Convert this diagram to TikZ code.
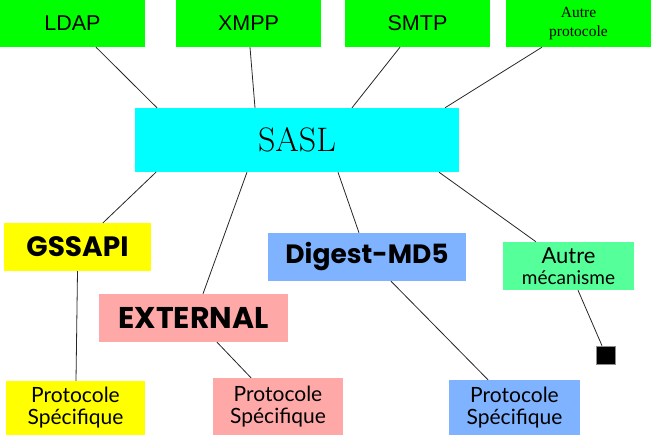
\documentclass[tikz,border=0pt]{standalone}
\usepackage{fontspec}
\setmainfont{Latin Modern Roman}
\newfontfamily\topfont{Liberation Sans}
\newfontfamily\serfont{Liberation Serif}
\newfontfamily\markfont{Poppins}
\newfontfamily\handfont{Lato}
\definecolor{topgreen}{HTML}{00FF00}
\definecolor{saslcyan}{HTML}{00FFFF}
\definecolor{gyellow}{HTML}{FFFF00}
\definecolor{epink}{HTML}{FFA8A8}
\definecolor{dblue}{HTML}{80B3FF}
\definecolor{mint}{HTML}{55FF99}
\tikzset{
  box/.style={rectangle, inner sep=0pt, align=center, text=black},
  link/.style={draw=black!85, line width=0.8pt},
  topbox/.style={box, fill=topgreen, minimum width=145pt, minimum height=47pt, font=\topfont\fontsize{21.5}{24}\selectfont},
  markbox/.style={box, minimum height=48pt, font=\markfont\bfseries\fontsize{27}{30}\selectfont},
  handbox/.style={box, font=\handfont\fontsize{21}{22}\selectfont},
}
\begin{document}
\begin{tikzpicture}[x=1pt,y=-1pt]
\useasboundingbox (0,0) rectangle (651,435);
% top row
\node[topbox] (ldap) at (72.5,23.5) {LDAP};
\node[topbox] (xmpp) at (248.5,23.5) {XMPP};
\node[topbox] (smtp) at (417.5,23.5) {SMTP};
\node[topbox, font=\serfont\fontsize{15.5}{19.5}\selectfont] (autrep) at (578.5,23.5) {Autre\\protocole};
% SASL
\node[box, fill=saslcyan, minimum width=324pt, minimum height=64pt, font=\fontsize{34}{38}\selectfont] (sasl) at (297,140) {SASL};
% mechanisms
\node[markbox, fill=gyellow, minimum width=147pt, font=\markfont\bfseries\fontsize{28}{30}\selectfont] (gss) at (77.5,247) {GSSAPI};
\node[markbox, fill=epink, minimum width=189pt, font=\markfont\bfseries\fontsize{30}{32}\selectfont] (ext) at (193.5,318) {EXTERNAL};
\node[markbox, fill=dblue, minimum width=198pt, font=\markfont\bfseries\fontsize{26.5}{30}\selectfont] (dig) at (367,257) {Digest-MD5};
\node[handbox, fill=mint, minimum width=131pt, minimum height=48pt] (autrem) at (568.5,266) {{\fontsize{22}{22}\selectfont Autre}\\[-1pt]{\fontsize{19}{20}\selectfont mécanisme}};
% specific protocols
\node[handbox, fill=gyellow, minimum width=139pt, minimum height=54pt] (ps1) at (75.5,408) {Protocole\\Spécifique};
\node[handbox, fill=epink, minimum width=130pt, minimum height=57pt] (ps2) at (278,406.5) {Protocole\\Spécifique};
\node[handbox, fill=dblue, minimum width=131pt, minimum height=55pt] (ps3) at (514.5,407.5) {Protocole\\Spécifique};
\node[rectangle, fill=black, draw=black!45, line width=0.6pt, minimum width=19pt, minimum height=18pt, inner sep=0pt] (sq) at (605.5,355) {};
% connectors top
\draw[link] ([xshift=23.5pt]ldap.south) -- ([xshift=-140pt]sasl.north);
\draw[link] ([xshift=1.5pt]xmpp.south) -- ([xshift=-42pt]sasl.north);
\draw[link] ([xshift=-17.5pt]smtp.south) -- ([xshift=55pt]sasl.north);
\draw[link] ([xshift=-36.5pt]autrep.south) -- ([xshift=148pt]sasl.north);
% connectors down
\draw[link] ([xshift=-141pt]sasl.south) -- ([xshift=25.5pt]gss.north);
\draw[link] ([xshift=-50pt]sasl.south) -- ([xshift=9.5pt]ext.north);
\draw[link] ([xshift=41pt]sasl.south) -- ([xshift=-8pt]dig.north);
\draw[link] ([xshift=142pt]sasl.south) -- ([xshift=-32.5pt]autrem.north);
\draw[link] (gss.south) -- ([xshift=0.5pt]ps1.north);
\draw[link] ([xshift=23.5pt]ext.south) -- ([xshift=-27pt]ps2.north);
\draw[link] ([xshift=24pt]dig.south) -- ([xshift=-26.5pt]ps3.north);
\draw[link] ([xshift=9.5pt]autrem.south) -- ([xshift=-3.5pt]sq.north);
\end{tikzpicture}
\end{document}
